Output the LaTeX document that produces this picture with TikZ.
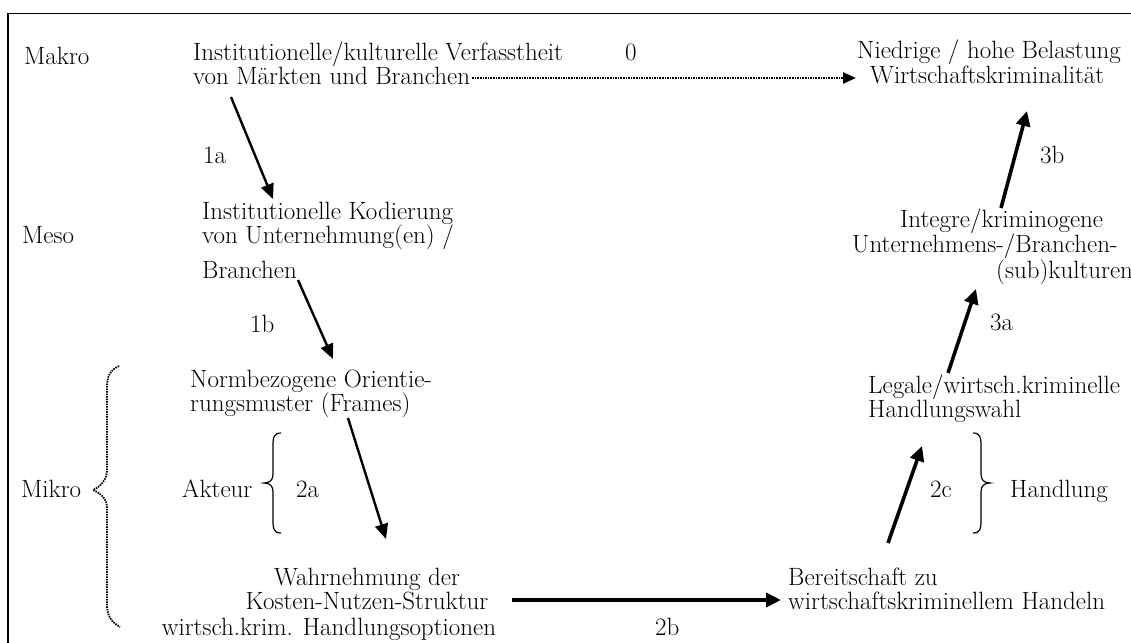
\documentclass[tikz,border=0pt]{standalone}
\usetikzlibrary{arrows.meta}
\begin{document}
\begin{tikzpicture}[x=1pt,y=-1pt,
  txt/.style={inner sep=0pt, anchor=base west, font=\fontsize{25}{26}\selectfont},
  ctxt/.style={txt, anchor=base},
  thinarrow/.style={line width=2.4pt, -{Triangle[length=15pt,width=13pt]}},
  thickarrow/.style={line width=3.6pt, -{Triangle[length=15pt,width=14pt]}},
  dotarrow/.style={line width=2.6pt, dash pattern=on 1.6pt off 1pt, -{Triangle[length=13pt,width=11pt]}},
  bracepath/.style={line width=1.2pt},
  dotbrace/.style={line width=1.8pt, dash pattern=on 1.5pt off 1pt}]
\useasboundingbox (0,0) rectangle (1131,642);
\clip (0,0) rectangle (1131,642);
\fill[white] (0,0) rectangle (1131,642);
% frame
\draw[line width=1.6pt] (8,13.5) -- (1140,13.5);
\draw[line width=1.6pt] (8,13.5) -- (8,650);
% level labels
\node[txt] (makro) at (24,64) {Makro};
\node[txt] (meso) at (22,243) {Meso};
\node[txt] (mikro) at (21,497) {Mikro};
% Makro
\node[txt] (A1) at (193,60) {Institutionelle/kulturelle Verfasstheit};
\node[txt] (A2) at (193,84) {von M\"arkten und Branchen};
\node[txt] (l0) at (625,60) {0};
\node[txt] (B1) at (857,59) {Niedrige / hohe Belastung};
\node[txt] (B2) at (870,83) {Wirtschaftskriminalit\"at};
% Meso
\node[txt] (C1) at (202,219) {Institutionelle Kodierung};
\node[txt] (C2) at (202,243) {von Unternehmung(en) /};
\node[txt] (C3) at (202,278) {Branchen};
\node[txt] (l1a) at (203,163) {1a};
\node[txt] (l1b) at (250,332) {1b};
\node[txt] (H1) at (900,227) {Integre/kriminogene};
\node[txt] (H2) at (852,252) {Unternehmens-/Branchen-};
\node[txt] (H3) at (996,278) {(sub)kulturen};
\node[txt] (l3b) at (1040,163) {3b};
\node[txt] (l3a) at (990,330) {3a};
% Mikro
\node[txt] (D1) at (190,387) {Normbezogene Orientie-};
\node[txt] (D2) at (190,411) {rungsmuster (Frames)};
\node[txt] (akteur) at (182,497) {Akteur};
\node[txt] (l2a) at (296,497) {2a};
\node[ctxt] (E1) at (367,585) {Wahrnehmung der};
\node[ctxt] (E2) at (367,609) {Kosten-Nutzen-Struktur};
\node[ctxt] (E3) at (329,635) {wirtsch.krim. Handlungsoptionen};
\node[txt] (l2b) at (655,635) {2b};
\node[txt] (F1) at (788,585) {Bereitschaft zu};
\node[txt] (F2) at (788,609) {wirtschaftskriminellem Handeln};
\node[txt] (G1) at (868,393) {Legale/wirtsch.kriminelle};
\node[txt] (G2) at (868,417) {Handlungswahl};
\node[txt] (l2c) at (930,497) {2c};
\node[txt] (handlung) at (1010,497) {Handlung};
% connector end points
\coordinate (s0) at ([xshift=2pt,yshift=6pt]A2.base east);
\coordinate (e0) at (856,78);
\coordinate (s1a) at (231,97);
\coordinate (e1a) at (273,199);
\coordinate (s1b) at (298,280);
\coordinate (e1b) at (333,359);
\coordinate (s2a) at (348,418);
\coordinate (e2a) at (386,539);
\coordinate (s2b) at (512,600);
\coordinate (e2b) at (781,600);
\coordinate (s2c) at (888,543);
\coordinate (e2c) at (922,446);
\coordinate (s3a) at (948,373);
\coordinate (e3a) at (976,289);
\coordinate (s3b) at (1001,208);
\coordinate (e3b) at (1027,111);
% arrows
\draw[dotarrow] (s0) -- (s0 -| e0);
\draw[thinarrow] (s1a) -- (e1a);
\draw[thinarrow] (s1b) -- (e1b);
\draw[thinarrow] (s2a) -- (e2a);
\draw[thickarrow] (s2b) -- (e2b);
\draw[thickarrow] (s2c) -- (e2c);
\draw[thickarrow] (s3a) -- (e3a);
\draw[thickarrow] (s3b) -- (e3b);
% small braces
\draw[bracepath] (281,433) .. controls (274,433) and (273,437) .. (273,445)
  -- (273,474) .. controls (273,480) and (270,483) .. (264,483)
  .. controls (270,483) and (273,486) .. (273,492)
  -- (273,521) .. controls (273,529) and (274,533) .. (281,533);
\draw[bracepath] (973,433) .. controls (980,433) and (981,437) .. (981,445)
  -- (981,474) .. controls (981,480) and (984,483) .. (990,483)
  .. controls (984,483) and (981,486) .. (981,492)
  -- (981,521) .. controls (981,529) and (980,533) .. (973,533);
% big dotted brace
\draw[dotbrace] (119,366) .. controls (110,370) and (107,376) .. (107,388)
  -- (107,470) .. controls (107,480) and (100,487) .. (93,490)
  .. controls (100,493) and (107,498) .. (107,508)
  -- (107,605) .. controls (107,615) and (111,622) .. (120,627);
\end{tikzpicture}
\end{document}
